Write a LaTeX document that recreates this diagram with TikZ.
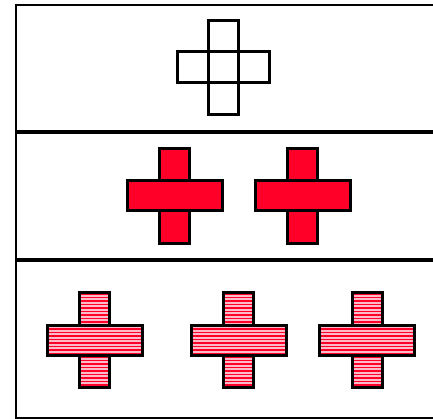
\documentclass[tikz,border=0pt]{standalone}
\definecolor{crossred}{RGB}{255,0,40}
\definecolor{stripepink}{RGB}{255,185,200}
\newcommand\stripedrect[4]{%
  \begin{scope}
    \clip (#1,#2) rectangle (#3,#4);
    \fill[stripepink] (#1,#2) rectangle (#3,#4);
    \foreach \k in {0,...,30} {
      \draw[stripeline] (#1-2,{290.5+3.5*\k}) -- (#3+2,{290.5+3.5*\k});
    }
  \end{scope}
  \draw[crossline] (#1,#2) rectangle (#3,#4);
}
\newcommand\stripedcross[2]{%
  \stripedrect{#1-15}{#2-47.5}{#1+15}{#2-15}
  \stripedrect{#1-15}{#2+15}{#1+15}{#2+47.5}
  \stripedrect{#1-47.5}{#2-15}{#1+47.5}{#2+15}
}
\newcommand\redcross[2]{%
  \draw[crossline,fill=crossred] (#1-15,#2-47.5) rectangle (#1+15,#2-15);
  \draw[crossline,fill=crossred] (#1-15,#2+15) rectangle (#1+15,#2+47.5);
  \draw[crossline,fill=crossred] (#1-47.5,#2-15) rectangle (#1+47.5,#2+15);
}
\begin{document}
\begin{tikzpicture}[x=1pt,y=-1pt,
  frame/.style={draw=black,line width=2.8pt},
  divider/.style={draw=black,line width=4.2pt},
  crossline/.style={draw=black,line width=3pt,line join=miter},
  stripeline/.style={draw=crossred,line width=1.5pt},
  emptysq/.style={draw=black,line width=3pt,fill=white}]
\useasboundingbox (0,0) rectangle (433,419);
\clip (0,0) rectangle (433,419);
\fill[white] (0,0) rectangle (433,419);
% frame
\draw[frame] (16,5) rectangle (460,418);
\draw[divider] (16,132) -- (460,132);
\draw[divider] (16,260) -- (460,260);
% top outlined cross of five squares
\draw[emptysq] (208,52) rectangle (238,83);
\draw[emptysq] (208,21) rectangle (238,52);
\draw[emptysq] (208,83) rectangle (238,115);
\draw[emptysq] (177,52) rectangle (208,83);
\draw[emptysq] (238,52) rectangle (269,83);
% red crosses
\redcross{174.5}{196}
\redcross{302.5}{196}
% striped crosses
\stripedcross{94.5}{340}
\stripedcross{238.5}{340}
\stripedcross{367}{340}
\end{tikzpicture}
\end{document}
